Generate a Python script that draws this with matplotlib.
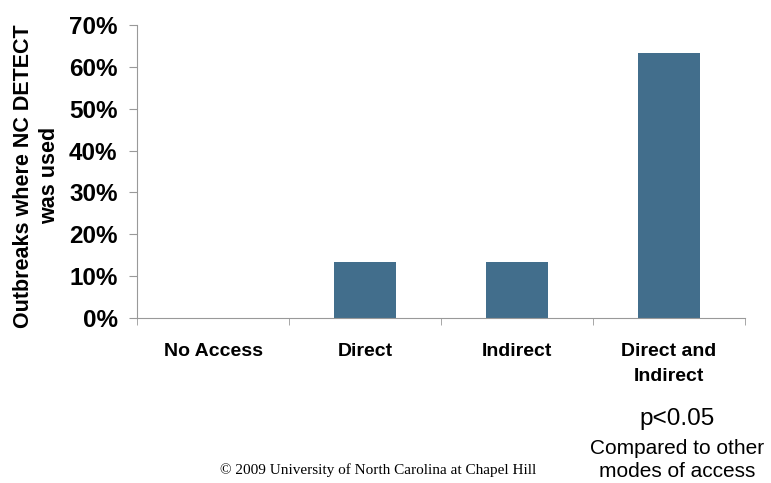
import matplotlib
matplotlib.use("Agg")
import matplotlib.pyplot as plt
import numpy as np

categories = ["No Access", "Direct", "Indirect", "Direct and\nIndirect"]
values = [0.0, 13.3, 13.3, 63.2]
yticks = [0, 10, 20, 30, 40, 50, 60, 70]

plt.rcParams["font.family"] = ["Liberation Sans", "DejaVu Sans"]

fig = plt.figure(figsize=(7.71, 4.83), dpi=100)
ax = fig.add_axes([0.1777, 0.3416, 0.7886, 0.6066])

x = np.arange(len(categories))
ax.bar(x, values, width=0.41, color="#426e8c")

ax.set_xlim(-0.5, len(categories) - 0.5)
ax.set_ylim(0, 70)
ax.set_yticks(yticks)
ax.set_yticklabels([f"{v}%" for v in yticks], fontsize=17.5, fontweight="bold")
ax.set_xticks(x)
ax.set_xticklabels(categories, fontsize=14, fontweight="bold", linespacing=1.6)
ax.set_xticks(np.arange(len(categories) + 1) - 0.5, minor=True)
ax.tick_params(axis="x", which="major", length=0, pad=18)
ax.tick_params(axis="x", which="minor", length=5, color="#999999", direction="out")
ax.tick_params(axis="y", length=6, color="#999999", pad=8)

for side in ["top", "right"]:
    ax.spines[side].set_visible(False)
ax.spines["left"].set_color("#999999")
ax.spines["bottom"].set_color("#999999")

fig.text(0.047, 0.636, "Outbreaks where NC DETECT\nwas used", rotation=90,
         ha="center", va="center", fontsize=15.5, fontweight="bold", linespacing=1.3)

fig.text(0.878, 0.133, "p<0.05", ha="center", va="center", fontsize=17.5)
fig.text(0.878, 0.048, "Compared to other\nmodes of access", ha="center", va="center",
         fontsize=15, linespacing=1.25)
fig.text(0.491, 0.027, "\u00a9 2009 University of North Carolina at Chapel Hill",
         ha="center", va="center", fontsize=11, family=["Liberation Serif", "DejaVu Serif"])

fig.savefig("out.png", dpi=100)
